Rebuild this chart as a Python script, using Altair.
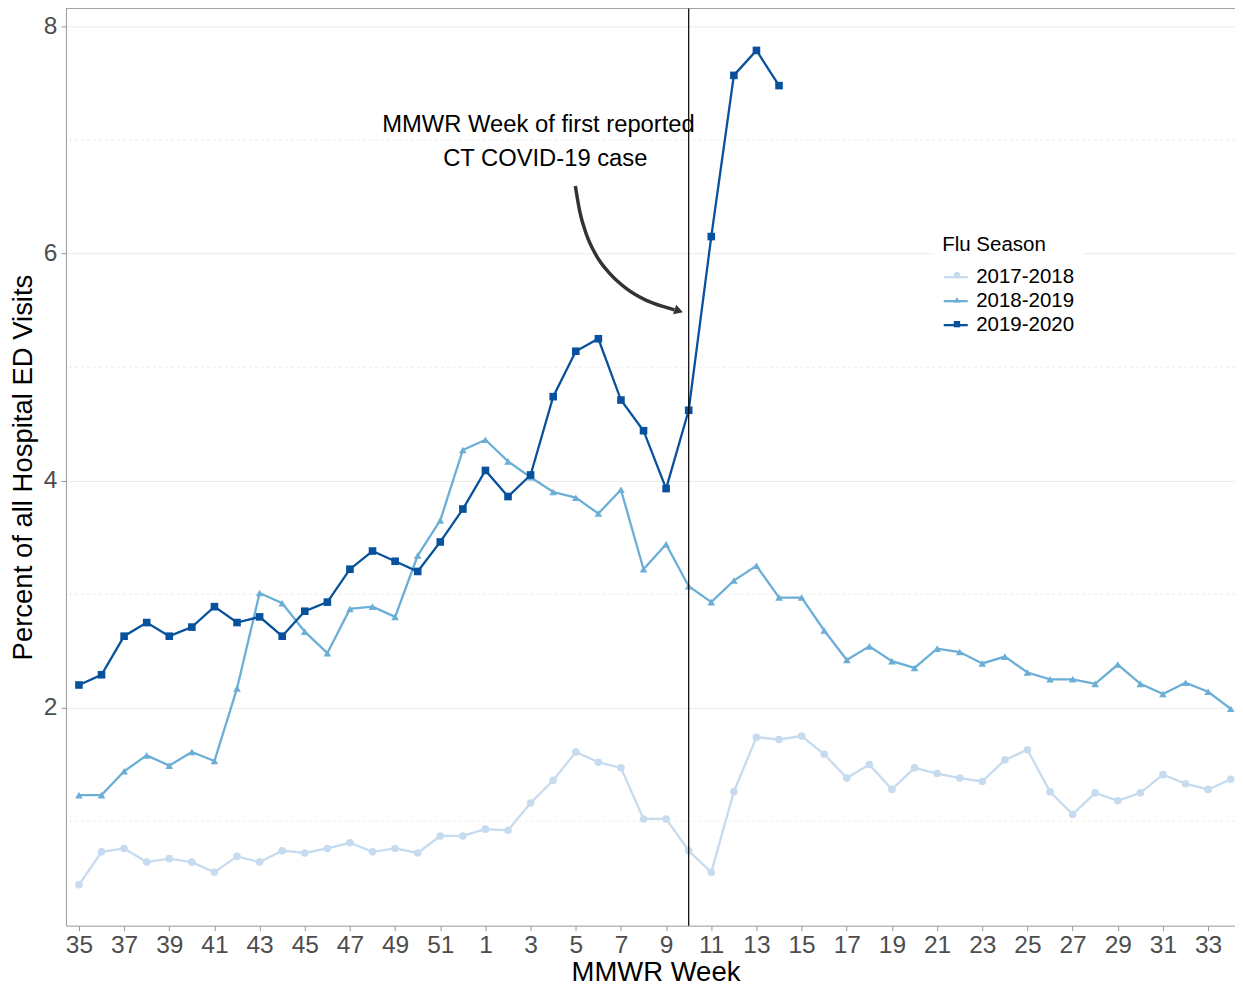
import altair as alt
import pandas as pd

# ---------------- data ----------------
weeks = list(range(35, 53)) + list(range(1, 35))
seasons = ["2017-2018", "2018-2019", "2019-2020"]

s1718 = [0.44, 0.73, 0.76, 0.64, 0.67, 0.64, 0.55, 0.69, 0.64, 0.74, 0.72, 0.76,
         0.81, 0.73, 0.76, 0.72, 0.87, 0.87,
         0.93, 0.92, 1.16, 1.36, 1.61, 1.52, 1.47, 1.02, 1.02, 0.74, 0.55, 1.26,
         1.74, 1.72, 1.75, 1.59, 1.38, 1.50, 1.28, 1.47, 1.42, 1.38, 1.35, 1.54,
         1.63, 1.26, 1.06, 1.25, 1.18, 1.25, 1.41, 1.33, 1.28, 1.37]
s1819 = [1.23, 1.23, 1.44, 1.58, 1.49, 1.61, 1.53, 2.17, 3.01, 2.92, 2.67, 2.48,
         2.87, 2.89, 2.80, 3.34, 3.65, 4.27,
         4.36, 4.17, 4.03, 3.90, 3.85, 3.71, 3.92, 3.22, 3.44, 3.07, 2.93, 3.12,
         3.25, 2.97, 2.97, 2.68, 2.42, 2.54, 2.41, 2.35, 2.52, 2.49, 2.39, 2.45,
         2.31, 2.25, 2.25, 2.21, 2.38, 2.21, 2.12, 2.22, 2.14, 1.99]
s1920 = [2.20, 2.29, 2.63, 2.75, 2.63, 2.71, 2.89, 2.75, 2.80, 2.63, 2.85, 2.93,
         3.22, 3.38, 3.29, 3.20, 3.46, 3.75,
         4.09, 3.86, 4.05, 4.74, 5.14, 5.25, 4.71, 4.44, 3.93, 4.62, 6.15, 7.57,
         7.79, 7.48]

colors = ["#c6dbef", "#6baed6", "#08519c"]
shapes = ["circle", "triangle-up", "square"]

major_ticks = [2, 4, 6, 8]
minor_grid = [1, 3, 5, 7]
covid_week = 10

annot_lines = ["MMWR Week of first reported", "CT COVID-19 case"]
annot_x = [20.35, 20.65]
annot_y = [7.13, 6.83]

# curved arrow path (annotation geometry, in data units)
arrow_x = [21.98, 22.17, 22.46, 22.91, 23.50, 24.23, 25.12, 26.00, 26.37]
arrow_y = [6.596, 6.377, 6.175, 5.982, 5.825, 5.693, 5.588, 5.526, 5.504]
arrow_tip = (26.56, 5.495)

# ---------------- frames ----------------
rows = []
for season, vals in zip(seasons, [s1718, s1819, s1920]):
    for i, v in enumerate(vals):
        rows.append({"season": season, "season2": season, "idx": i,
                     "week": weeks[i], "value": v})
df = pd.DataFrame(rows)

YMIN, YMAX = 0.08, 8.16
grid_df = pd.DataFrame({"y": minor_grid})
top_df = pd.DataFrame({"y": [YMAX]})
vline_df = pd.DataFrame({"idx": [weeks.index(covid_week, 18)]})
annot_df = pd.DataFrame({"x": annot_x, "y": annot_y, "text": annot_lines})
arrow_df = pd.DataFrame({"x": arrow_x, "y": arrow_y, "o": list(range(len(arrow_x)))})
tip_df = pd.DataFrame({"x": [arrow_tip[0]], "y": [arrow_tip[1]]})

label_expr = "[" + ",".join(f"'{w}'" for w in weeks) + "][datum.value]"

FONT = "Liberation Sans"

xscale = alt.Scale(domain=[-0.575, 51.19], nice=False, zero=False)
yscale = alt.Scale(domain=[YMIN, YMAX], nice=False, zero=False)

x_enc = alt.X("idx:Q", scale=xscale,
              axis=alt.Axis(title="MMWR Week", values=list(range(0, 52, 2)),
                            labelExpr=label_expr, grid=False, titleX=590))
y_enc = alt.Y("value:Q", scale=yscale,
              axis=alt.Axis(title="Percent of all Hospital ED Visits",
                            values=major_ticks, format="d", grid=True))

LEG_X, LEG_Y = 869, 219

line_legend = alt.Legend(
    title="Flu Season", orient="none", legendX=LEG_X, legendY=LEG_Y, padding=8,
    fillColor="white", titleFont=FONT, labelFont=FONT, titleFontSize=20.5,
    labelFontSize=20.5, titleFontWeight="normal", titleColor="black",
    labelColor="black", titlePadding=8, rowPadding=0,
    symbolType="stroke", symbolSize=576, symbolStrokeWidth=2.3, labelOffset=7,
)
point_legend = alt.Legend(
    title=None, orient="none", legendX=873.5, legendY=248.75, padding=8,
    labelFontSize=20.5, labelExpr="''", rowPadding=3.5,
    symbolSize=40, symbolStrokeWidth=0, symbolOpacity=1,
)

minor = alt.Chart(grid_df).mark_rule(color="#ececec", strokeDash=[3, 3], strokeWidth=1).encode(
    y=alt.Y("y:Q", scale=yscale)
)
top = alt.Chart(top_df).mark_rule(color="#999999", strokeWidth=1).encode(
    y=alt.Y("y:Q", scale=yscale)
)

lines = alt.Chart(df).mark_line(strokeWidth=2.3).encode(
    x=x_enc, y=y_enc,
    color=alt.Color("season:N", scale=alt.Scale(domain=seasons, range=colors),
                    legend=line_legend),
)
points = alt.Chart(df).mark_point(filled=True, size=58, opacity=1).encode(
    x="idx:Q", y="value:Q",
    color=alt.Color("season2:N", scale=alt.Scale(domain=seasons, range=colors),
                    legend=point_legend),
    shape=alt.Shape("season2:N", scale=alt.Scale(domain=seasons, range=shapes),
                    legend=point_legend),
)

vline = alt.Chart(vline_df).mark_rule(color="black", strokeWidth=1.2).encode(
    x=alt.X("idx:Q", scale=xscale)
)

annot = alt.Chart(annot_df).mark_text(font=FONT, fontSize=23.8, color="black",
                                      align="center", baseline="middle").encode(
    x=alt.X("x:Q", scale=xscale), y=alt.Y("y:Q", scale=yscale), text="text:N"
)

arrow = alt.Chart(arrow_df).mark_line(color="#333333", strokeWidth=3.5,
                                      interpolate="monotone").encode(
    x=alt.X("x:Q", scale=xscale), y=alt.Y("y:Q", scale=yscale), order="o:Q"
)
tip = alt.Chart(tip_df).mark_point(shape="triangle-right", filled=True, size=100,
                                   angle=18, color="#333333", opacity=1).encode(
    x=alt.X("x:Q", scale=xscale), y=alt.Y("y:Q", scale=yscale)
)

chart = alt.layer(minor, top, lines, points, vline, annot, arrow, tip).resolve_scale(
    color="independent", shape="independent"
).resolve_legend(
    color="independent", shape="independent"
).properties(
    width=1170, height=918,
    autosize=alt.AutoSizeParams(type="none"),
    padding={"left": 58, "top": 0, "right": 0, "bottom": 62},
).configure_view(
    strokeWidth=0
).configure_axis(
    labelFont=FONT, titleFont=FONT, labelFontSize=24.5, titleFontSize=27.5,
    labelColor="#4d4d4d", titleColor="black", titleFontWeight="normal",
    domainColor="#999999", tickColor="#999999", tickSize=5,
    gridColor="#ebebeb", gridWidth=1, labelPadding=3,
).configure_axisX(
    titlePadding=1
).configure_axisY(
    titlePadding=6, labelPadding=4
)

chart.save("out.html", embed_options={"renderer": "svg", "actions": False})
